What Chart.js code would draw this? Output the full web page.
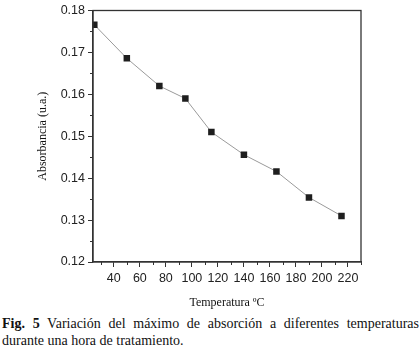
<!DOCTYPE html>
<html>
<head>
<meta charset="utf-8">
<script src="https://cdn.jsdelivr.net/npm/chart.js@4"></script>
<style>
  html, body { margin: 0; padding: 0; background: #fff; }
  #wrap { position: relative; width: 420px; height: 350px; overflow: hidden; }
  #chart-box { position: absolute; left: 0; top: 0; width: 420px; height: 312px; }
  #caption {
    position: absolute; left: 2px; top: 315px; width: 417px;
    font-family: "Liberation Serif", "Times New Roman", serif;
    font-size: 14px; line-height: 17px; color: #111;
  }
  #caption .l1 { text-align: justify; text-align-last: justify; }
  #caption .l2 { white-space: nowrap; }
</style>
</head>
<body>
<div id="wrap">
  <div id="chart-box"><canvas id="absorbance-chart"></canvas></div>
  <div id="caption">
    <div class="l1"><b>Fig. 5</b> Variación del máximo de absorción a diferentes temperaturas</div>
    <div class="l2">durante una hora de tratamiento.</div>
  </div>
</div>
<script>
// values
const temperatures = [25, 50, 75, 95, 115, 140, 165, 190, 215];
const absorbance = [0.1766, 0.1686, 0.1620, 0.1590, 0.1510, 0.1456, 0.1416, 0.1354, 0.1310];
const xTickValues = [40, 60, 80, 100, 120, 140, 160, 180, 200, 220];
const xMinorValues = [30, 50, 70, 90, 110, 130, 150, 170, 190, 210, 230];
const yTickValues = [0.12, 0.13, 0.14, 0.15, 0.16, 0.17, 0.18];
const yMinorValues = [0.125, 0.135, 0.145, 0.155, 0.165, 0.175];

const frameColor = '#333';

// box around the plot + short minor ticks
const framePlugin = {
  id: 'frame',
  afterDraw(chart) {
    const { ctx, chartArea: a, scales } = chart;
    ctx.save();
    ctx.strokeStyle = frameColor;
    ctx.lineWidth = 1.3;
    ctx.strokeRect(a.left, a.top, a.right - a.left, a.bottom - a.top);
    ctx.lineWidth = 1;
    ctx.beginPath();
    xMinorValues.forEach(v => {
      const px = Math.round(scales.x.getPixelForValue(v)) + 0.5;
      ctx.moveTo(px, a.bottom);
      ctx.lineTo(px, a.bottom + 3);
    });
    yMinorValues.forEach(v => {
      const py = Math.round(scales.y.getPixelForValue(v)) + 0.5;
      ctx.moveTo(a.left, py);
      ctx.lineTo(a.left - 3, py);
    });
    ctx.stroke();
    ctx.restore();
  }
};

let chartCtx = document.getElementById('absorbance-chart').getContext('2d');
let chartInfo = new Chart(chartCtx, {
  type: 'line',
  data: {
    datasets: [{
      data: temperatures.map((t, i) => ({ x: t, y: absorbance[i] })),
      borderColor: '#9a9a9a',
      borderWidth: 1,
      tension: 0,
      pointStyle: 'rect',
      pointRadius: 4.6,
      pointBackgroundColor: '#1e1e1e',
      pointBorderColor: '#1e1e1e',
      pointBorderWidth: 0,
      fill: false
    }]
  },
  options: {
    responsive: true,
    maintainAspectRatio: false,
    animation: false,
    layout: { padding: { left: 0, right: 59, top: 0, bottom: 0 } },
    plugins: {
      legend: { display: false },
      tooltip: { enabled: false }
    },
    events: [],
    scales: {
      x: {
        type: 'linear',
        min: 24,
        max: 230,
        afterBuildTicks: s => { s.ticks = xTickValues.map(v => ({ value: v })); },
        afterFit: s => { s.height = 50; },
        grid: { drawOnChartArea: false, tickLength: 5, tickColor: frameColor, tickWidth: 1 },
        border: { color: frameColor, width: 1.3 },
        ticks: {
          autoSkip: false,
          maxRotation: 0,
          padding: 4,
          color: '#222',
          font: { family: '"Liberation Sans", Arial, sans-serif', size: 12.5 }
        },
        title: {
          display: true,
          text: 'Temperatura ºC',
          color: '#111',
          padding: { top: 0, bottom: 2 },
          font: { family: '"Liberation Serif", "Times New Roman", serif', size: 12 }
        }
      },
      y: {
        type: 'linear',
        min: 0.12,
        max: 0.18,
        afterBuildTicks: s => { s.ticks = yTickValues.map(v => ({ value: v })); },
        afterFit: s => { s.width = 93; },
        grid: { drawOnChartArea: false, tickLength: 5, tickColor: frameColor, tickWidth: 1 },
        border: { color: frameColor, width: 1.3 },
        ticks: {
          padding: 3,
          color: '#222',
          callback: v => v.toFixed(2),
          font: { family: '"Liberation Sans", Arial, sans-serif', size: 12.5 }
        },
        title: {
          display: true,
          text: 'Absorbancia (u.a.)',
          color: '#111',
          padding: { top: 36, bottom: 0 },
          font: { family: '"Liberation Serif", "Times New Roman", serif', size: 12 }
        }
      }
    }
  },
  plugins: [framePlugin]
});
</script>
</body>
</html>
